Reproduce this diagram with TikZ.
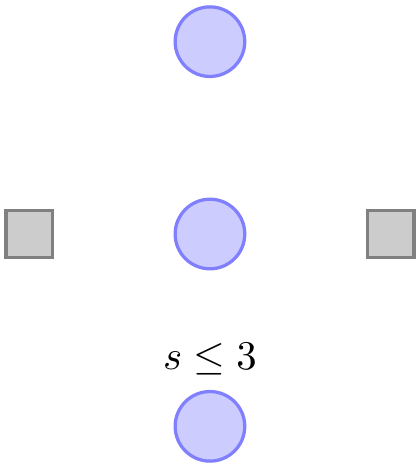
\documentclass[tikz,border=0pt]{standalone}
\usetikzlibrary{positioning}
\begin{document}
\begin{tikzpicture}[node distance=1.03cm,
   place/.style={circle,draw=blue!50,fill=blue!20,thick,minimum size=6mm},
   transition/.style={rectangle,draw=black!50,fill=black!20,thick,minimum size=4mm}]
   \useasboundingbox (-51.5pt,-57.4pt) rectangle (51.5pt,57.4pt);
   \node[place] (critical) {};
   \node[place] (waiting) [above=of critical] {};
   \node[place] (semaphore) [below=of critical,label=above:$s\le 3$] {};
   \node[transition] (enter) [left=of critical] {};
   \node[transition] (leave) [right=of critical] {};
  \end{tikzpicture}
\end{document}
